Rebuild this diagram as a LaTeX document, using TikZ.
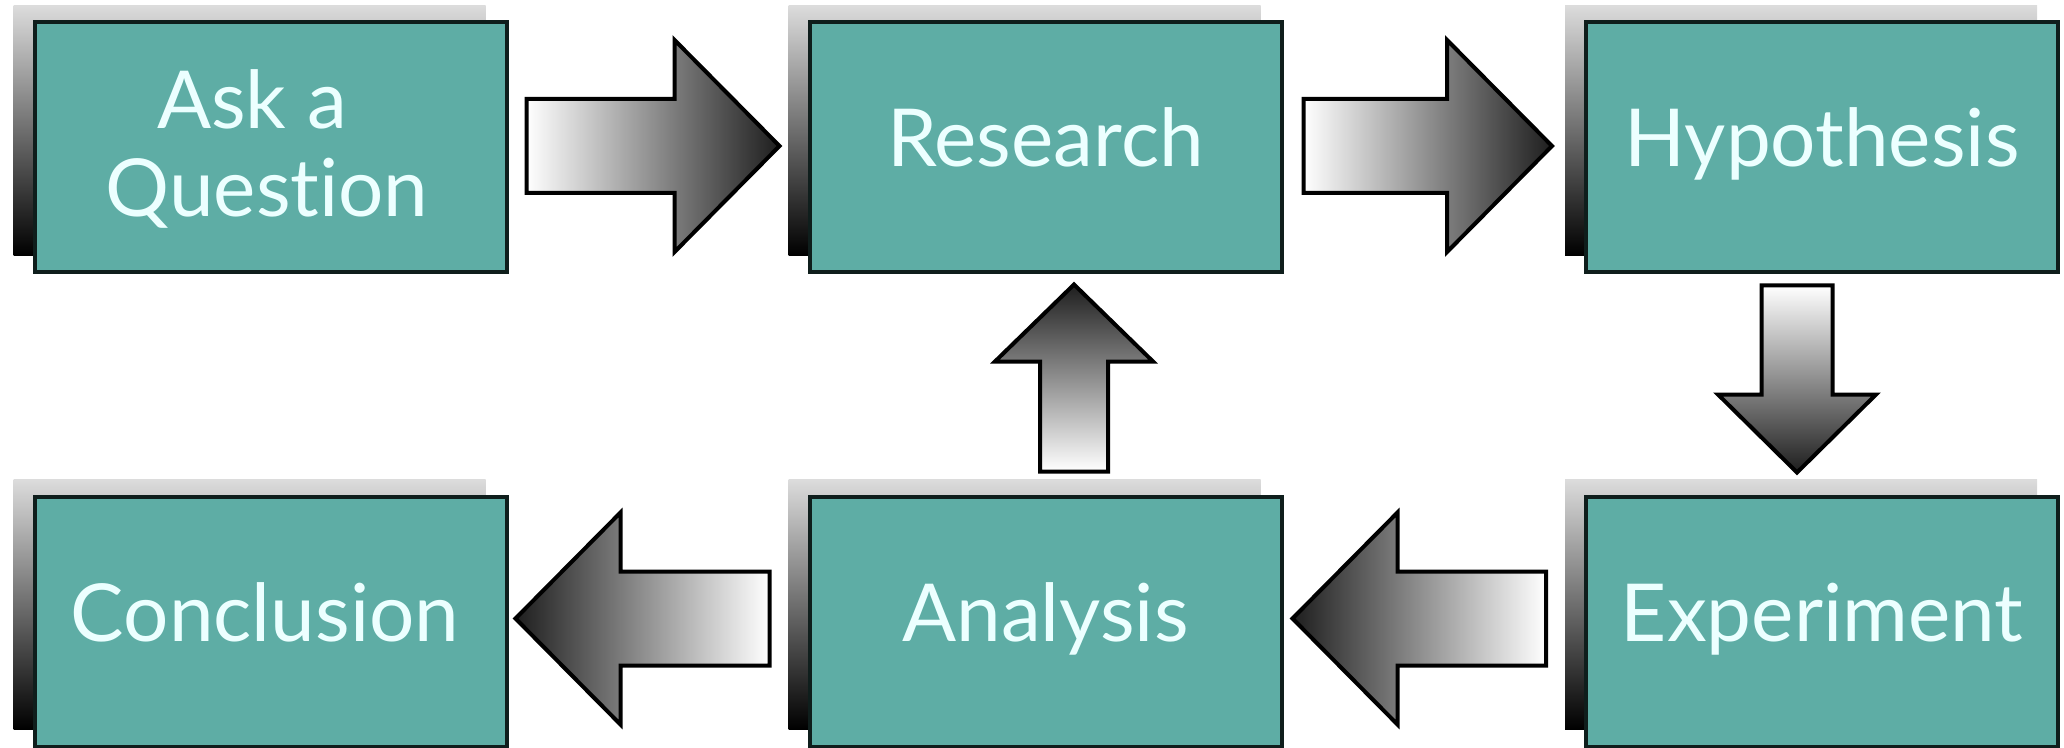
\documentclass[tikz,border=0pt]{standalone}
\usepackage{fontspec}
\setmainfont[Ligatures=NoCommon]{Lato}
\usetikzlibrary{calc,shadows}
\definecolor{boxfill}{RGB}{94,173,165}
\definecolor{boxline}{RGB}{15,30,28}
\definecolor{txtc}{RGB}{236,255,255}
\definecolor{tipc}{RGB}{30,30,30}
\definecolor{shadtop}{RGB}{220,220,220}
\tikzset{
  stepbox/.style={rectangle, draw=boxline, line width=2pt, fill=boxfill,
    minimum width=236pt, minimum height=125pt, inner sep=0pt, outer sep=0pt,
    general shadow={top color=shadtop, bottom color=black,
      shadow xshift=-10.5pt, shadow yshift=8.5pt}},
  lbl/.style={text=txtc, font=\fontsize{40pt}{44pt}\selectfont, anchor=base, inner sep=0pt},
  barrow/.style={draw=black, line width=2pt, line join=miter},
}
\begin{document}
\begin{tikzpicture}[x=0.5pt,y=-0.5pt]
\useasboundingbox (0,0) rectangle (2064,748);
% boxes
\node[stepbox] (ask)  at (270.5,147.5) {};
\node[stepbox] (res)  at (1045.5,147.5) {};
\node[stepbox] (hyp)  at (1822,147.5) {};
\node[stepbox] (conc) at (270.5,621.5) {};
\node[stepbox] (ana)  at (1045.5,621.5) {};
\node[stepbox] (exp)  at (1822,621.5) {};
% labels
\node[lbl] (askT1) at (252,129) {Ask a};
\node[lbl] (askT2) at (267,217) {Question};
\node[lbl] (resT)  at (1045.5,167) {Research};
\node[lbl] (hypT)  at (1822,167) {Hypothesis};
\node[lbl] (concT) at (265,641) {Conclusion};
\node[lbl] (anaT)  at (1045.5,641) {Analysis};
\node[lbl] (expT)  at (1822,641) {Experiment};
% Ask -> Research
\draw[barrow, left color=white, right color=tipc]
  let \p1=($(ask.east)+(20,-1.5)$), \p2=($(res.west)+(-30,-1.5)$) in
  (\x1,\y1+23.5pt) -- (\x2-52.5pt,\y1+23.5pt) -- (\x2-52.5pt,\y1+53pt) -- (\x2,\y1)
  -- (\x2-52.5pt,\y1-53pt) -- (\x2-52.5pt,\y1-23.5pt) -- (\x1,\y1-23.5pt) -- cycle;
% Research -> Hypothesis
\draw[barrow, left color=white, right color=tipc]
  let \p1=($(res.east)+(22,-1.5)$), \p2=($(hyp.west)+(-34,-1.5)$) in
  (\x1,\y1+23.5pt) -- (\x2-52.5pt,\y1+23.5pt) -- (\x2-52.5pt,\y1+53pt) -- (\x2,\y1)
  -- (\x2-52.5pt,\y1-53pt) -- (\x2-52.5pt,\y1-23.5pt) -- (\x1,\y1-23.5pt) -- cycle;
% Hypothesis -> Experiment
\draw[barrow, top color=white, bottom color=tipc]
  let \p1=($(hyp.south)+(-25,13)$), \p2=($(exp.north)+(-25,-24)$) in
  (\x1-17.75pt,\y1) -- (\x1-17.75pt,\y2+39pt) -- (\x1-39.5pt,\y2+39pt) -- (\x1,\y2)
  -- (\x1+39.5pt,\y2+39pt) -- (\x1+17.75pt,\y2+39pt) -- (\x1+17.75pt,\y1) -- cycle;
% Experiment -> Analysis
\draw[barrow, left color=tipc, right color=white]
  let \p1=($(exp.west)+(-40,-3)$), \p2=($(ana.east)+(11,-3)$) in
  (\x1,\y1+23.5pt) -- (\x2+52.5pt,\y1+23.5pt) -- (\x2+52.5pt,\y1+53pt) -- (\x2,\y1)
  -- (\x2+52.5pt,\y1-53pt) -- (\x2+52.5pt,\y1-23.5pt) -- (\x1,\y1-23.5pt) -- cycle;
% Analysis -> Conclusion
\draw[barrow, left color=tipc, right color=white]
  let \p1=($(ana.west)+(-40,-3)$), \p2=($(conc.east)+(9,-3)$) in
  (\x1,\y1+23.5pt) -- (\x2+52.5pt,\y1+23.5pt) -- (\x2+52.5pt,\y1+53pt) -- (\x2,\y1)
  -- (\x2+52.5pt,\y1-53pt) -- (\x2+52.5pt,\y1-23.5pt) -- (\x1,\y1-23.5pt) -- cycle;
% Analysis -> Research
\draw[barrow, bottom color=white, top color=tipc]
  let \p1=($(ana.north)+(28.5,-25)$), \p2=($(res.south)+(28.5,12)$) in
  (\x1-17pt,\y1) -- (\x1-17pt,\y2-38.5pt) -- (\x1-39.5pt,\y2-38.5pt) -- (\x1,\y2)
  -- (\x1+39.5pt,\y2-38.5pt) -- (\x1+17pt,\y2-38.5pt) -- (\x1+17pt,\y1) -- cycle;
\end{tikzpicture}
\end{document}
